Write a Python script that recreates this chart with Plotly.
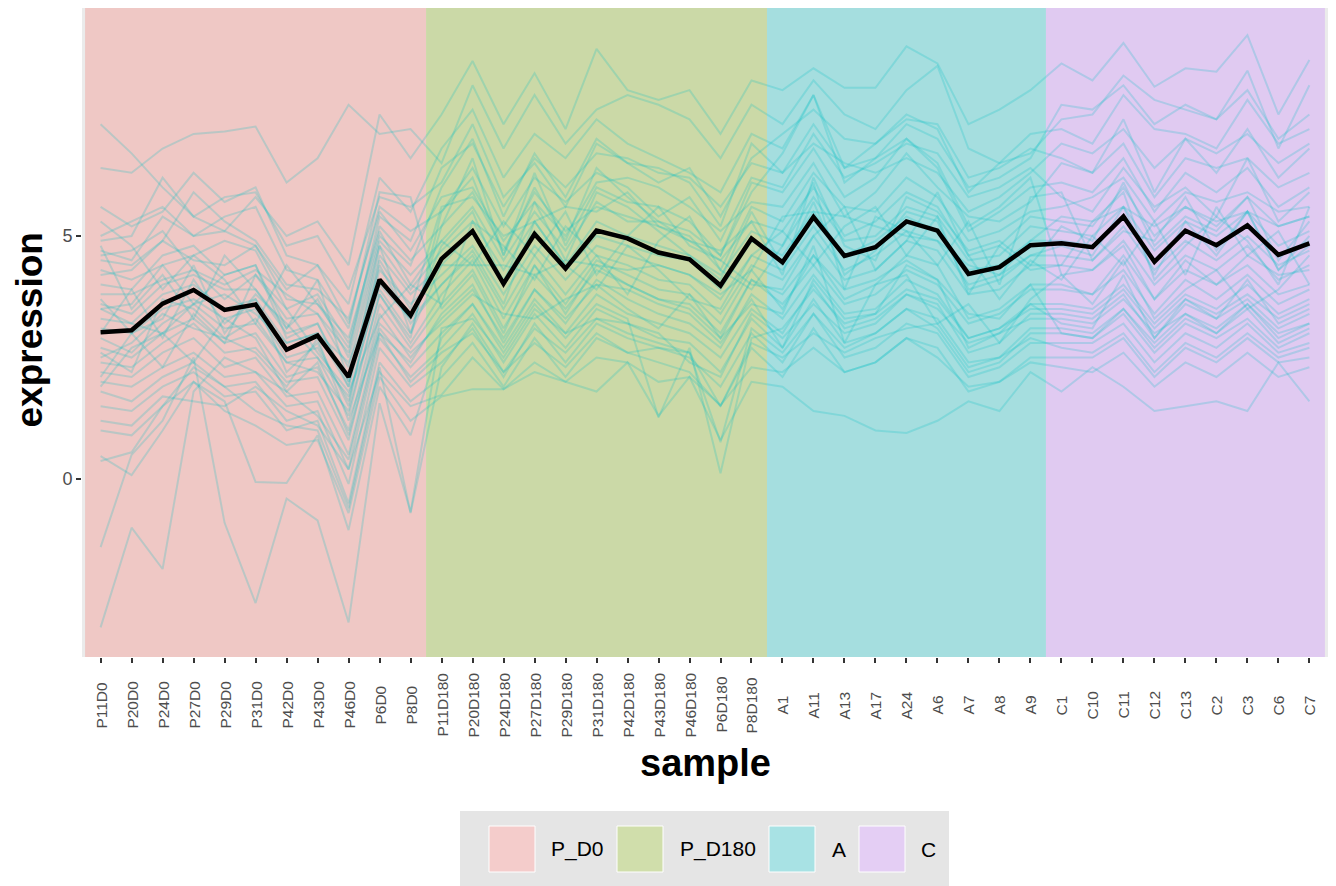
import plotly.graph_objects as go

# ---------------- data ----------------
samples = ["P11D0", "P20D0", "P24D0", "P27D0", "P29D0", "P31D0", "P42D0", "P43D0", "P46D0", "P6D0", "P8D0",
           "P11D180", "P20D180", "P24D180", "P27D180", "P29D180", "P31D180", "P42D180", "P43D180", "P46D180", "P6D180", "P8D180",
           "A1", "A11", "A13", "A17", "A24", "A6", "A7", "A8", "A9",
           "C1", "C10", "C11", "C12", "C13", "C2", "C3", "C6", "C7"]
groups = ["P_D0", "P_D180", "A", "C"]
group_sizes = [11, 11, 9, 9]

mean_expr = [3.02, 3.06, 3.61, 3.89, 3.48, 3.59, 2.66, 2.95, 2.10, 4.10, 3.37,
             4.53, 5.10, 4.02, 5.04, 4.33, 5.11, 4.95, 4.66, 4.52, 3.98, 4.95,
             4.46, 5.39, 4.59, 4.77, 5.30, 5.11, 4.22, 4.36, 4.81,
             4.85, 4.77, 5.40, 4.47, 5.11, 4.81, 5.22, 4.61, 4.85]

g01 = [7.3, 6.7, 6.0, 5.4, 5.1, 5.8, 5.0, 5.3, 4.4, 7.5, 6.6,
       7.5, 8.6, 7.3, 8.35, 7.2, 8.85, 8.0, 7.8, 8.0, 7.1, 8.2,
       8.0, 8.45, 8.05, 8.05, 8.9, 8.55, 7.3, 7.6, 8.0,
       8.55, 8.2, 8.97, 8.07, 8.45, 8.38, 9.13, 7.5, 8.62]
g02 = [6.4, 6.3, 6.8, 7.1, 7.15, 7.25, 6.1, 6.6, 7.7, 7.1, 7.2,
       6.5, 8.1, 6.8, 7.9, 6.9, 7.6, 7.9, 7.7, 7.4, 6.6, 7.7,
       7.3, 8.2, 7.5, 7.2, 8.0, 8.5, 6.8, 6.5, 6.7,
       7.4, 7.5, 8.3, 7.8, 7.6, 7.4, 8.4, 6.8, 8.1]
g03 = [5.6, 5.2, 5.5, 6.3, 5.7, 6.0, 4.6, 4.4, 3.6, 6.2, 5.5,
       6.8, 7.6, 6.2, 7.1, 6.6, 7.4, 6.9, 6.6, 6.3, 5.9, 7.1,
       6.8, 7.9, 6.4, 6.9, 7.5, 7.2, 5.9, 6.5, 7.1,
       7.2, 6.9, 7.9, 7.2, 7.1, 6.8, 7.8, 6.9, 7.2]
g04 = [4.9, 5.0, 6.2, 5.4, 5.8, 5.9, 4.8, 5.0, 3.9, 5.8, 5.6,
       6.1, 7.3, 5.8, 6.5, 5.6, 6.9, 6.5, 6.1, 6.4, 5.4, 6.6,
       7.1, 7.6, 7.0, 6.9, 7.4, 7.3, 6.2, 6.4, 6.8,
       6.6, 6.3, 7.4, 5.9, 7.0, 6.3, 7.2, 6.2, 6.8]
g05 = [4.7, 4.5, 5.4, 5.0, 5.1, 4.8, 3.9, 4.4, 3.2, 5.6, 5.1,
       5.5, 6.4, 5.2, 6.2, 5.7, 6.3, 6.0, 5.4, 5.8, 4.9, 6.2,
       6.0, 7.1, 6.2, 6.5, 6.9, 6.7, 5.8, 6.0, 6.4,
       5.8, 5.5, 6.4, 5.6, 6.0, 5.4, 6.6, 5.3, 5.9]
g06 = [4.5, 4.4, 4.9, 5.9, 5.3, 4.9, 4.0, 3.9, 3.3, 5.5, 4.7,
       5.8, 6.0, 4.9, 5.7, 5.0, 6.1, 6.2, 6.0, 5.6, 5.1, 5.7,
       5.6, 6.5, 5.4, 5.9, 6.7, 6.0, 5.4, 5.3, 5.7,
       6.5, 6.3, 6.9, 5.8, 6.6, 6.4, 6.6, 6.0, 6.3]
g07 = [4.3, 4.1, 4.4, 4.6, 4.9, 4.7, 3.5, 3.8, 2.8, 5.2, 4.5,
       5.2, 5.9, 4.7, 5.9, 5.1, 5.6, 5.4, 5.2, 5.0, 4.3, 5.6,
       5.3, 6.3, 5.6, 5.5, 6.2, 5.8, 4.9, 5.1, 5.5,
       5.6, 5.8, 6.2, 5.3, 5.9, 5.7, 5.9, 5.5, 5.6]
g08 = [4.0, 3.9, 4.6, 4.8, 4.2, 4.4, 3.1, 3.7, 2.5, 4.9, 4.2,
       4.9, 5.6, 4.5, 5.5, 4.7, 5.7, 5.3, 5.3, 4.9, 4.5, 5.3,
       5.1, 6.0, 5.0, 5.3, 5.9, 5.6, 4.6, 4.8, 5.4,
       5.3, 5.2, 6.0, 5.0, 5.6, 5.2, 5.8, 5.2, 5.4]
g09 = [3.8, 3.8, 4.1, 4.3, 3.7, 4.2, 3.3, 3.4, 2.3, 4.8, 3.9,
       4.7, 5.3, 4.3, 5.3, 4.4, 5.3, 5.0, 4.8, 4.6, 4.2, 5.1,
       4.8, 5.8, 4.9, 5.0, 5.6, 5.4, 4.5, 4.6, 5.2,
       5.1, 5.0, 5.6, 4.7, 5.3, 5.0, 5.5, 4.8, 5.1]
g10 = [3.6, 3.4, 4.0, 4.2, 3.9, 3.9, 3.0, 3.2, 2.0, 4.6, 3.8,
       4.4, 5.1, 4.1, 5.1, 4.3, 5.0, 4.8, 4.6, 4.5, 3.9, 4.9,
       4.6, 5.5, 4.6, 4.9, 5.4, 5.1, 4.3, 4.4, 4.9,
       4.9, 4.8, 5.4, 4.5, 5.1, 4.8, 5.2, 4.6, 4.9]
g11 = [3.3, 3.2, 3.8, 4.0, 3.5, 3.7, 2.8, 3.0, 1.9, 4.3, 3.6,
       4.2, 4.8, 3.8, 4.8, 4.1, 4.8, 4.6, 4.4, 4.2, 3.7, 4.6,
       4.3, 5.2, 4.3, 4.6, 5.1, 4.9, 4.0, 4.2, 4.6,
       4.6, 4.5, 5.2, 4.3, 4.9, 4.5, 5.0, 4.4, 4.7]
g12 = [3.1, 3.0, 3.5, 3.7, 3.3, 3.5, 2.5, 2.7, 1.6, 4.1, 3.3,
       4.0, 4.6, 3.5, 4.6, 3.8, 4.6, 4.4, 4.1, 4.0, 3.4, 4.4,
       4.1, 5.0, 4.1, 4.3, 4.9, 4.7, 3.8, 3.9, 4.4,
       4.4, 4.3, 4.9, 4.0, 4.6, 4.3, 4.8, 4.1, 4.4]
g13 = [2.5, 2.8, 3.4, 3.1, 2.9, 3.3, 2.4, 2.2, 1.4, 3.8, 2.9,
       5.5, 6.2, 4.6, 6.0, 4.9, 6.4, 5.8, 5.3, 5.1, 4.6, 5.9,
       6.7, 7.9, 6.1, 6.6, 7.0, 6.5, 5.2, 5.6, 6.2,
       4.2, 4.3, 4.8, 3.7, 4.5, 4.0, 4.6, 4.2, 4.3]
g14 = [5.0, 5.3, 5.6, 5.0, 5.4, 5.6, 4.3, 4.1, 3.1, 5.9, 5.8,
       3.5, 4.2, 3.0, 4.4, 3.4, 4.4, 4.0, 3.7, 3.6, 3.0, 4.1,
       3.8, 4.6, 3.7, 4.0, 4.6, 4.4, 3.3, 3.5, 4.0,
       3.0, 2.9, 3.5, 2.8, 3.4, 3.0, 3.6, 2.9, 3.2]
g15 = [2.9, 2.6, 3.2, 3.6, 3.1, 3.2, 2.4, 2.5, 1.3, 3.8, 2.8,
       3.8, 4.5, 3.3, 4.4, 3.6, 4.5, 4.2, 3.9, 3.8, 3.2, 4.3,
       3.5, 4.6, 3.9, 4.1, 4.5, 4.1, 3.4, 3.3, 4.0,
       4.0, 3.8, 4.6, 3.7, 4.3, 4.0, 4.4, 3.8, 4.0]
g16 = [2.7, 2.5, 3.0, 3.3, 2.8, 3.0, 2.1, 2.3, 1.0, 3.6, 2.7,
       3.6, 4.3, 3.1, 4.2, 3.5, 4.3, 4.0, 3.7, 3.5, 2.9, 4.1,
       3.6, 4.4, 3.6, 3.8, 4.3, 4.0, 3.2, 3.4, 3.9,
       3.9, 3.8, 4.3, 3.4, 4.1, 3.7, 4.2, 3.6, 3.9]
g17 = [2.4, 2.3, 2.8, 3.2, 2.6, 2.7, 2.0, 2.1, 0.8, 3.4, 2.5,
       3.3, 3.9, 2.9, 3.9, 3.2, 4.1, 3.7, 3.4, 3.2, 2.7, 3.8,
       3.3, 4.2, 3.4, 3.5, 4.1, 3.8, 2.9, 3.1, 3.6,
       3.6, 3.5, 4.0, 3.2, 3.8, 3.5, 4.0, 3.4, 3.7]
g18 = [2.2, 2.1, 2.6, 2.9, 2.3, 2.5, 1.7, 1.8, 0.5, 3.1, 2.3,
       3.0, 3.6, 2.7, 3.7, 3.0, 3.8, 3.4, 3.2, 3.0, 2.5, 3.5,
       3.0, 4.0, 3.1, 3.3, 3.8, 3.6, 2.6, 2.8, 3.4,
       3.4, 3.3, 3.8, 2.9, 3.6, 3.3, 3.7, 3.1, 3.4]
g19 = [2.0, 1.9, 2.3, 2.6, 2.1, 2.2, 1.5, 1.6, 0.2, 2.9, 2.1,
       2.7, 3.4, 2.4, 3.4, 2.7, 3.5, 3.2, 2.9, 2.8, 2.2, 3.3,
       2.7, 3.7, 2.8, 3.0, 3.5, 3.3, 2.4, 2.5, 3.1,
       3.1, 3.0, 3.5, 2.7, 3.3, 3.0, 3.5, 2.8, 3.1]
g20 = [1.8, 1.6, 2.1, 2.4, 1.9, 2.0, 1.2, 1.4, -0.1, 2.7, 1.9,
       2.4, 3.1, 2.1, 3.2, 2.4, 3.2, 2.9, 2.7, 2.5, 1.9, 3.0,
       2.4, 3.4, 2.5, 2.7, 3.2, 3.0, 2.1, 2.3, 2.8,
       2.8, 2.8, 3.2, 2.4, 3.0, 2.7, 3.2, 2.6, 2.8]
g21 = [1.5, 1.4, 1.9, 2.2, 1.7, 1.8, 1.0, 1.2, -0.5, 2.4, 1.6,
       2.1, 2.8, 1.9, 2.9, 2.1, 2.9, 2.6, 2.4, 2.2, 1.5, 2.7,
       2.1, 3.1, 2.2, 2.4, 2.9, 2.7, 1.8, 2.0, 2.5,
       2.5, 2.5, 2.9, 2.1, 2.7, 2.4, 2.9, 2.4, 2.5]
g22 = [1.0, 0.9, 1.5, 2.0, 1.4, 1.1, 0.7, 0.8, -0.7, 2.1, 1.2,
       1.7, 1.85, 1.85, 2.2, 2.0, 1.8, 2.4, 1.3, 2.1, 0.8, 2.0,
       1.9, 1.4, 1.3, 1.0, 0.95, 1.2, 1.6, 1.4, 2.2,
       1.8, 2.3, 1.9, 1.4, 1.5, 1.6, 1.4, 2.4, 1.6]
g23 = [-3.05, -1.0, -1.85, 1.8, 2.5, 2.2, 1.8, 1.3, 0.4, 3.0, 2.0,
       2.6, 3.0, 2.2, 2.8, 2.3, 3.0, 2.6, 2.7, 2.6, 1.5, 2.8,
       2.5, 3.0, 2.6, 2.9, 3.1, 3.2, 2.3, 2.5, 2.9,
       2.7, 2.6, 3.0, 2.2, 2.8, 2.5, 3.0, 2.5, 2.7]
g24 = [-1.4, 0.5, 1.2, 2.5, -0.9, -2.55, -0.4, -0.85, -2.95, 1.56, -0.68,
       3.1, 3.3, 2.5, 3.5, 3.0, 3.3, 3.2, 3.0, 2.4, 2.1, 3.4,
       2.9, 3.6, 3.0, 3.2, 3.8, 3.5, 2.8, 3.0, 3.3,
       3.3, 3.2, 3.7, 3.0, 3.4, 3.1, 3.6, 3.0, 3.2]
g25 = [0.47, 0.08, 1.0, 2.0, 1.6, -0.06, -0.08, 0.9, -1.05, 1.9, 0.9,
       2.9, 3.6, 2.6, 3.6, 2.9, 3.6, 3.3, 1.27, 2.7, 0.12, 2.9,
       3.1, 3.9, 3.2, 3.4, 3.9, 3.7, 2.9, 3.1, 3.5,
       3.5, 3.4, 3.9, 3.1, 3.7, 3.4, 3.8, 3.3, 3.6]
g26 = [0.37, 0.55, 1.5, 2.3, 1.9, 1.4, 1.1, 1.0, -0.6, 2.3, -0.7,
       2.3, 3.2, 2.2, 3.1, 2.6, 3.3, 3.0, 2.8, 2.6, 0.76, 3.1,
       2.6, 3.4, 2.7, 3.0, 3.5, 3.1, 2.2, 2.4, 3.0,
       3.0, 2.9, 3.4, 2.6, 3.2, 2.9, 3.3, 2.7, 3.0]
g27 = [3.5, 3.6, 4.4, 3.6, 4.2, 4.4, 2.9, 3.2, 1.9, 4.8, 3.0,
       5.2, 6.6, 4.6, 6.3, 4.8, 6.0, 5.7, 5.6, 5.3, 4.6, 6.1,
       5.9, 6.8, 5.8, 6.2, 7.0, 6.4, 5.1, 5.5, 6.0,
       6.1, 5.9, 6.6, 5.5, 6.3, 5.9, 6.4, 5.6, 6.0]
g28 = [1.2, 1.1, 1.7, 1.6, 1.5, 1.9, 1.4, 1.1, 0.2, 2.2, 1.5,
       1.73, 2.5, 1.85, 2.4, 2.0, 2.5, 2.4, 2.0, 2.1, 1.52, 2.3,
       2.2, 2.7, 2.2, 2.4, 2.9, 2.5, 1.9, 2.0, 2.4,
       2.3, 2.2, 2.6, 1.9, 2.4, 2.1, 2.6, 2.1, 2.3]
g29 = [4.2, 4.3, 4.9, 4.5, 4.4, 4.8, 3.7, 3.6, 2.7, 5.0, 4.4,
       6.0, 7.0, 5.4, 6.7, 5.8, 7.0, 6.5, 6.4, 6.1, 5.2, 6.9,
       6.3, 7.3, 6.4, 6.6, 7.3, 7.0, 6.0, 6.2, 6.6,
       7.7, 7.6, 8.1, 7.3, 7.7, 7.4, 8.0, 7.0, 7.5]
g30 = [3.5, 3.2, 3.0, 3.6, 3.8, 3.4, 2.8, 3.0, 2.4, 3.9, 3.0,
       4.4, 4.4, 4.4, 4.2, 4.5, 4.4, 4.3, 4.4, 4.2, 3.8, 4.3,
       5.4, 5.5, 5.4, 5.2, 5.0, 4.9, 4.4, 4.2, 4.9,
       5.4, 5.3, 5.6, 5.2, 5.6, 5.3, 5.5, 5.2, 5.4]
g31 = [5.3, 4.8, 3.9, 4.6, 4.1, 3.2, 4.4, 3.6, 2.9, 5.1, 4.0,
       4.9, 4.4, 5.3, 4.6, 5.5, 4.2, 5.0, 5.6, 4.8, 4.5, 4.0,
       3.9, 5.0, 5.6, 4.3, 4.9, 5.9, 4.6, 3.7, 4.5,
       4.1, 5.0, 4.4, 5.3, 4.2, 5.6, 4.6, 5.1, 4.0]
g32 = [2.1, 3.0, 2.3, 3.4, 2.8, 4.2, 3.5, 2.6, 1.8, 3.3, 4.0,
       3.6, 5.3, 4.8, 4.1, 5.2, 4.6, 3.8, 4.9, 5.4, 4.3, 3.9,
       4.8, 6.1, 3.9, 5.4, 5.1, 4.4, 5.3, 4.0, 5.8,
       5.9, 4.5, 5.1, 4.9, 5.8, 4.7, 5.5, 4.3, 5.0]
g33 = [4.8, 3.5, 4.2, 3.3, 4.6, 3.9, 3.1, 4.1, 2.0, 4.4, 3.2,
       4.0, 4.7, 3.6, 5.3, 4.4, 3.9, 4.8, 4.3, 3.7, 3.5, 4.6,
       5.1, 4.4, 5.2, 5.6, 4.6, 5.4, 3.8, 4.8, 4.3,
       4.4, 5.3, 5.9, 4.1, 4.8, 5.4, 4.9, 4.0, 5.6]
g34 = [1.9, 2.7, 3.0, 2.4, 3.3, 2.9, 1.8, 2.4, 0.9, 3.2, 2.6,
       3.2, 3.8, 3.4, 3.3, 3.7, 4.0, 3.5, 3.1, 3.8, 2.9, 3.6,
       3.4, 4.8, 2.8, 4.0, 4.2, 3.2, 3.6, 2.8, 3.7,
       4.2, 3.6, 4.5, 3.3, 3.9, 4.3, 3.5, 3.9, 4.6]
g35 = [3.0, 3.9, 2.9, 4.1, 3.2, 3.7, 2.2, 2.8, 1.5, 4.5, 3.5,
       5.6, 5.8, 5.0, 5.3, 5.6, 5.5, 5.9, 5.2, 4.9, 4.7, 5.3,
       4.2, 6.2, 4.8, 4.5, 5.8, 5.5, 4.7, 4.9, 4.4,
       5.2, 4.9, 6.1, 4.8, 5.4, 5.1, 5.8, 4.5, 5.3]
g36 = [3.7, 3.0, 3.3, 4.4, 3.0, 3.8, 3.2, 2.5, 1.7, 4.0, 3.3,
       4.8, 5.5, 4.0, 5.7, 4.5, 5.9, 5.6, 5.1, 4.6, 4.1, 5.5,
       4.4, 5.7, 4.2, 4.7, 5.5, 5.3, 3.9, 4.1, 4.6,
       4.8, 4.6, 5.6, 4.2, 5.3, 4.6, 5.5, 4.3, 4.8]
g37 = [2.6, 2.2, 3.7, 3.5, 2.9, 2.6, 1.9, 2.9, 1.2, 3.0, 2.4,
       3.4, 4.0, 2.8, 3.9, 3.3, 4.0, 3.9, 3.6, 3.4, 2.8, 3.7,
       2.7, 4.1, 3.3, 3.4, 4.4, 4.1, 2.7, 3.0, 3.6,
       3.2, 3.1, 4.2, 2.9, 3.7, 3.3, 4.1, 3.2, 3.5]
g38 = [4.6, 4.7, 5.1, 4.3, 4.0, 4.3, 3.8, 3.4, 2.6, 5.4, 4.9,
       6.4, 6.9, 5.6, 6.6, 6.0, 6.7, 6.6, 6.3, 6.2, 5.6, 6.5,
       6.3, 6.9, 6.5, 6.3, 6.6, 6.3, 5.5, 5.8, 6.3,
       6.9, 6.7, 7.2, 6.4, 7.0, 6.7, 7.1, 6.5, 6.9]

gene_series = [g01, g02, g03, g04, g05, g06, g07, g08, g09, g10,
               g11, g12, g13, g14, g15, g16, g17, g18, g19, g20,
               g21, g22, g23, g24, g25, g26, g27, g28, g29, g30,
               g31, g32, g33, g34, g35, g36, g37, g38]

# ---------------- style ----------------
FONT = "Liberation Sans, Arial, Helvetica, sans-serif"
OFF = 8                      # page body margin of the html file
W, H = 1328, 878             # figure size (page is offset by OFF)
L, R, T, B = 74, 8, 0, 229   # margins in figure pixels
band_colors = ["#EFC8C5", "#CBD9A7", "#A5DEDF", "#E0CAF1"]
key_colors = ["#F4CCCB", "#D0DEAB", "#A8E2E4", "#E4CEF4"]
line_color = "rgba(0,191,196,0.22)"


def xp(page_x):
    return (page_x - OFF - L) / (W - L - R)


def yp(page_y):
    return (H - B - (page_y - OFF)) / (H - T - B)


fig = go.Figure()

for s in gene_series:
    fig.add_trace(go.Scatter(x=samples, y=s, mode="lines",
                             line=dict(color=line_color, width=2),
                             showlegend=False, hoverinfo="skip"))

fig.add_trace(go.Scatter(x=samples, y=mean_expr, mode="lines",
                         line=dict(color="black", width=4.5),
                         showlegend=False))

shapes = []
start = 0
for g, n, c in zip(groups, group_sizes, band_colors):
    shapes.append(dict(type="rect", xref="x", yref="paper",
                       x0=start - 0.5, x1=start + n - 0.5, y0=0, y1=1,
                       fillcolor=c, line=dict(width=0), layer="below"))
    start += n

annotations = []
# x tick labels, centred vertically (ggplot style)
for s in samples:
    annotations.append(dict(text=s, xref="x", yref="paper", x=s, y=yp(705),
                            textangle=-90, xanchor="center", yanchor="middle",
                            showarrow=False,
                            font=dict(family=FONT, size=15.5, color="#4D4D4D")))

# custom legend (page pixel positions)
shapes.append(dict(type="rect", xref="paper", yref="paper",
                   x0=xp(460), x1=xp(949), y0=yp(811), y1=yp(895),
                   fillcolor="#E5E5E5", line=dict(width=0)))
key_x = [489, 617, 769, 859]
text_x = [549, 678, 830, 919]
for kx, tx, kc, g in zip(key_x, text_x, key_colors, groups):
    shapes.append(dict(type="rect", xref="paper", yref="paper",
                       x0=xp(kx), x1=xp(kx + 46), y0=yp(826), y1=yp(872),
                       fillcolor=kc, line=dict(color="white", width=1)))
    annotations.append(dict(text=g, xref="paper", yref="paper",
                            x=xp(tx), y=yp(849), xanchor="left", yanchor="middle",
                            showarrow=False, font=dict(family=FONT, size=21, color="#000000")))

annotations.append(dict(text="<b>expression</b>", xref="paper", yref="paper",
                        x=xp(28.5), y=yp(330), textangle=-90, xanchor="center", yanchor="middle",
                        showarrow=False, font=dict(family=FONT, size=37, color="black")))
annotations.append(dict(text="<b>sample</b>", xref="paper", yref="paper",
                        x=xp(705), y=yp(763), xanchor="center", yanchor="middle",
                        showarrow=False, font=dict(family=FONT, size=38, color="black")))

fig.update_layout(
    width=W, height=H,
    margin=dict(l=L, r=R, t=T, b=B, autoexpand=False),
    paper_bgcolor="white", plot_bgcolor="#EBEBEB",
    font=dict(family=FONT),
    shapes=shapes, annotations=annotations,
    showlegend=False,
    xaxis=dict(type="category", categoryorder="array", categoryarray=samples,
               range=[-0.6, len(samples) - 0.4], showgrid=False, zeroline=False,
               ticks="outside", ticklen=5, tickwidth=1.5, tickcolor="#333333",
               showticklabels=False, showline=False, automargin=False),
    yaxis=dict(range=[-3.66, 9.69], tickvals=[0, 5], ticktext=["0", "5"],
               showgrid=False, zeroline=False,
               ticks="outside", ticklen=5, tickwidth=1.5, tickcolor="#333333",
               tickfont=dict(family=FONT, size=18, color="#4D4D4D"), showline=False,
               automargin=False),
)

fig.write_html("out.html")
